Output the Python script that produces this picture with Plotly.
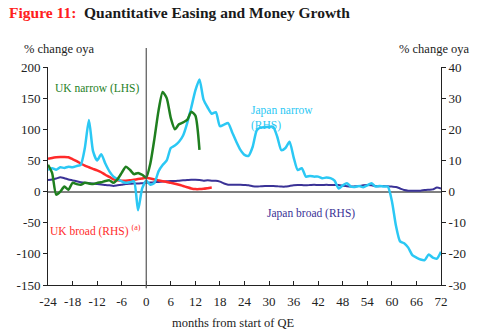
import plotly.graph_objects as go

# Months relative to the start of QE
months_jp = list(range(-24, 73))
months_uk_broad = list(range(-24, 17))
months_uk_narrow = list(range(-24, 14))

# Japan narrow money, % change oya (RHS)
japan_narrow = [
    7, 7.5, 7, 7.8, 7.6, 8, 7.8, 8.2, 8.6, 14, 23, 13, 10, 12, 9, 6.5, 4.8, 4, 3.3, 2.8,
    3, 3.3, -6, 1, 3.5, 2.2, 2.8, 6.5, 8.5, 10, 14, 14.8, 16, 18, 22, 27, 32.5, 36, 29.5, 27,
    25, 25.5, 21, 21.5, 22, 19, 16, 13.4, 11.8, 11.5, 14.4, 19.7, 20.6, 20.7, 20.8, 20.8, 17.6, 13.3, 14, 16,
    11, 6.9, 7.5, 4.8, 5, 4.8, 4.8, 4.3, 4.5, 4.3, 3.5, 1, 2, 2.7, 1.6, 1.5, 1.8, 1.4, 2, 2.7,
    1.6, 1.8, 1.6, 1.6, -3, -11, -16, -16.6, -18, -20.4, -21.2, -21.8, -22, -20.2, -21.2, -21.5, -19.3,
]

# Japan broad money, % change oya (RHS)
japan_broad = [
    3.7, 3.9, 4.2, 4.6, 4.3, 3.9, 3.6, 3.3, 3.0, 2.8, 2.7, 2.6, 2.4, 2.3, 2.1, 2.0, 1.8, 2.0, 2.2, 2.4,
    2.5, 2.6, 2.6, 2.7, 2.8, 2.9, 3.0, 3.1, 3.2, 3.3, 3.4, 3.4, 3.5, 3.6, 3.7, 3.8, 3.8, 3.7, 3.5, 3.6,
    3.5, 3.5, 3.2, 2.6, 2.2, 2.2, 2.2, 2.2, 2.1, 2.0, 1.7, 1.6, 1.7, 1.8, 1.8, 1.8, 1.7, 1.6, 1.6, 1.8,
    2.0, 2.1, 2.1, 2.0, 2.1, 2.2, 2.1, 2.1, 2.2, 2.1, 2.1, 2.1, 1.9, 1.7, 1.6, 1.7, 1.8, 2.0, 2.1, 2.0,
    1.8, 1.7, 1.8, 1.7, 1.6, 1.5, 1.0, 0.5, 0.3, 0.3, 0.3, 0.3, 0.5, 0.6, 0.7, 1.3, 1.0,
]

# UK broad money, % change oya (RHS)
uk_broad = [
    10.5, 10.8, 11.0, 11.1, 11.1, 11.0, 10.4, 9.8, 9.0, 8.3, 7.8, 7.3, 6.8, 6.2, 5.4, 4.7, 3.9, 3.6, 3.5, 3.5,
    3.6, 3.8, 4.0, 4.2, 4.4, 4.2, 3.9, 3.6, 3.3, 3.1, 2.8, 2.5, 2.2, 1.8, 1.4, 1.0, 0.8, 0.8, 0.9, 1.1, 1.3,
]

# UK narrow money, % change oya (LHS)
uk_narrow = [
    43, 30, -5, 0, 8, 3, 14, 12, 11, 14, 13, 12, 14, 15, 17, 18, 14, 20, 30, 40,
    35, 28, 30, 27, 23, 45, 85, 130, 160, 150, 118, 100, 108, 111, 115, 128, 122, 67,
]

# Tick values and labels (plain hyphen for negatives)
x_ticks = list(range(-24, 73, 6))
x_labels = [str(v) for v in x_ticks]
lhs_ticks = list(range(-150, 201, 50))
lhs_labels = [str(v) for v in lhs_ticks]
rhs_ticks = list(range(-30, 41, 10))
rhs_labels = [str(v) for v in rhs_ticks]

CYAN = "#2BC8F4"
NAVY = "#3A3296"
RED = "#FF2A2A"
GREEN = "#1F7F1F"
SERIF = "Liberation Serif, Times New Roman, serif"

fig = go.Figure()
fig.add_trace(go.Scatter(x=months_jp, y=japan_broad, mode="lines", yaxis="y",
                         line=dict(color=NAVY, width=2, shape="spline", smoothing=0.6)))
fig.add_trace(go.Scatter(x=months_uk_broad, y=uk_broad, mode="lines", yaxis="y",
                         line=dict(color=RED, width=2.5, shape="spline", smoothing=0.6)))
fig.add_trace(go.Scatter(x=months_jp, y=japan_narrow, mode="lines", yaxis="y",
                         line=dict(color=CYAN, width=2.5, shape="spline", smoothing=0.6)))
fig.add_trace(go.Scatter(x=months_uk_narrow, y=uk_narrow, mode="lines", yaxis="y2",
                         line=dict(color=GREEN, width=2.5, shape="spline", smoothing=0.6)))

tickfont = dict(family=SERIF, size=13, color="#222222")

fig.update_layout(
    width=477, height=329,
    margin=dict(l=48, r=36, t=67, b=44),
    paper_bgcolor="white", plot_bgcolor="white",
    showlegend=False,
    xaxis=dict(range=[-24, 72], tickvals=x_ticks, ticktext=x_labels, ticks="inside", ticklen=4,
               tickcolor="#222222", showline=True, linecolor="#222222", linewidth=1,
               showgrid=False, zeroline=False, tickfont=tickfont, ticklabelstandoff=4),
    yaxis=dict(range=[-30, 40], tickvals=rhs_ticks, ticktext=rhs_labels, side="right",
               ticks="outside", ticklen=4,
               tickcolor="#222222", showline=True, linecolor="#222222", linewidth=1,
               showgrid=False, zeroline=True, zerolinecolor="#808080", zerolinewidth=1.5,
               tickfont=tickfont),
    yaxis2=dict(range=[-150, 200], tickvals=lhs_ticks, ticktext=lhs_labels, side="left",
                overlaying="y", ticks="outside",
                ticklen=4, tickcolor="#222222", showline=True, linecolor="#222222",
                linewidth=1, showgrid=False, zeroline=False, tickfont=tickfont),
)

# Vertical marker at the start of QE
fig.add_shape(type="line", xref="x", yref="paper", x0=0, x1=0, y0=-0.015, y1=1.087,
              line=dict(color="#555555", width=1.2))

# Text placed by page pixel position (left edge, vertical centre)
labels = [
    (7, 13, "<b><span style='color:#FF2020'>Figure 11:</span>  Quantitative Easing and Money Growth</b>",
     15.5, "#1a1a1a"),
    (22, 49, "% change oya", 12.5, "#222222"),
    (397, 49, "% change oya", 12.5, "#222222"),
    (170, 323, "months from start of QE", 12.5, "#222222"),
    (53, 88, "UK narrow (LHS)", 11.5, GREEN),
    (249, 110, "Japan narrow", 11.5, CYAN),
    (249, 125, "(RHS)", 11.5, CYAN),
    (48, 230, "UK broad (RHS) <sup>(a)</sup>", 11.5, RED),
    (265, 213, "Japan broad (RHS)", 11.5, NAVY),
]

plot_w = 477 - 48 - 36
plot_h = 329 - 67 - 44
for px, py, text, size, color in labels:
    fig.add_annotation(x=(px - 48) / plot_w, y=(285 - py) / plot_h,
                       xref="paper", yref="paper", xanchor="left", yanchor="middle",
                       showarrow=False, text=text,
                       font=dict(family=SERIF, size=size, color=color))

fig.write_html("out.html")
